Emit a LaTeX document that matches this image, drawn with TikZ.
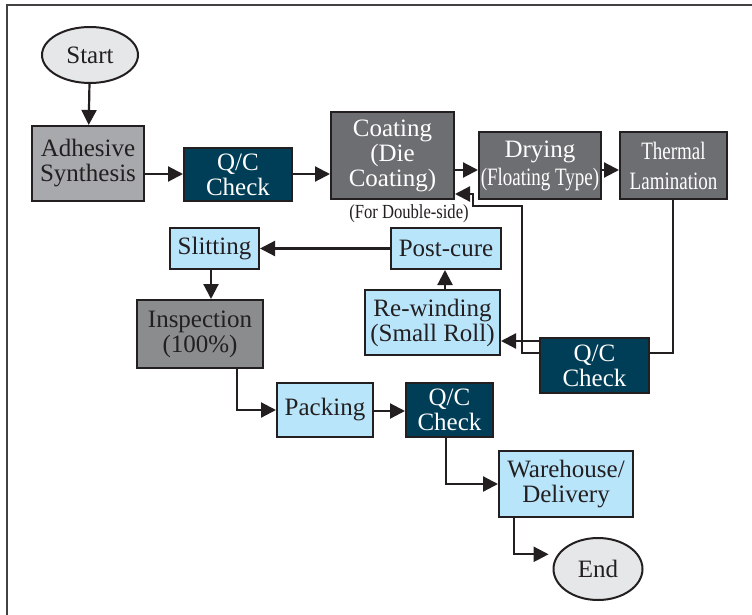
\documentclass[tikz,border=0pt]{standalone}
\usepackage{fontspec}
\setmainfont{Liberation Serif}
\newfontfamily\condf[FakeStretch=0.76]{Liberation Serif}
\newfontfamily\condg[FakeStretch=0.83]{Liberation Serif}
\usetikzlibrary{shapes.geometric,arrows.meta}
\definecolor{ink}{HTML}{231F20}
\definecolor{ovalfill}{HTML}{E6E7E8}
\definecolor{lightgray}{HTML}{A7A9AC}
\definecolor{midgray}{HTML}{8A8C8E}
\definecolor{darkgray}{HTML}{6D6E71}
\definecolor{qcblue}{HTML}{003E57}
\definecolor{skyblue}{HTML}{B9E5FB}
\tikzset{
  base/.style={draw=ink, line width=2pt, inner sep=0pt, align=center,
    font=\fontsize{25}{25}\selectfont},
  oval/.style={base, ellipse, fill=ovalfill, text=ink},
  graybox/.style={base, rectangle, fill=lightgray, text=ink},
  midbox/.style={base, rectangle, fill=midgray, text=ink},
  darkbox/.style={base, rectangle, fill=darkgray, text=white},
  qcbox/.style={base, rectangle, fill=qcblue, text=white},
  bluebox/.style={base, rectangle, fill=skyblue, text=ink},
  conn/.style={draw=ink, line width=2.2pt},
  arr/.style={conn, -{Triangle[length=15pt,width=15pt]}},
}
\begin{document}
\begin{tikzpicture}[x=1pt,y=-1pt]
\useasboundingbox (0,0) rectangle (752,615);
\fill[white] (0,0) rectangle (752,615);
\draw[ink!85, line width=2pt] (752,5) -- (7,5) -- (7,615);

\node[oval, minimum width=96pt, minimum height=56pt] (start) at (90,55) {Start};
\node[graybox, minimum width=112pt, minimum height=75pt] (adh) at (88,163.5) {Adhesive\\Synthesis};
\node[qcbox, minimum width=108pt, minimum height=53pt] (qc1) at (238,174.5) {Q/C\\Check};
\node[darkbox, minimum width=123pt, minimum height=87pt] (coat) at (392.5,155.5) {Coating\\(Die\\Coating)};
\node[darkbox, minimum width=122pt, minimum height=67pt, font=\fontsize{25}{28}\selectfont] (dry) at (540,165.5) {Drying\\{\condf (Floating Type)}};
\node[darkbox, minimum width=107pt, minimum height=67pt, font=\condf\fontsize{25}{30}\selectfont] (therm) at (673.5,165.5) {Thermal\\Lamination};
\node[inner sep=0pt, text=ink, font=\condg\fontsize{20}{20}\selectfont] (fords) at (409,214) {(For Double-side)};

\node[bluebox, minimum width=89pt, minimum height=41pt] (slit) at (214.5,248.5) {Slitting};
\node[bluebox, minimum width=110pt, minimum height=41pt] (post) at (446,248.5) {Post-cure};
\node[bluebox, minimum width=135pt, minimum height=65pt] (rew) at (432.5,322.5) {Re-winding\\(Small Roll)};
\node[midbox, minimum width=126pt, minimum height=68pt] (insp) at (200,334) {Inspection\\(100\%)};
\node[qcbox, minimum width=109pt, minimum height=55pt] (qc2) at (594.5,365.5) {Q/C\\Check};
\node[bluebox, minimum width=96pt, minimum height=54pt] (pack) at (325,410) {Packing};
\node[qcbox, minimum width=87pt, minimum height=54pt] (qc3) at (449.5,410) {Q/C\\Check};
\node[bluebox, minimum width=134pt, minimum height=66pt] (ware) at (566,484) {Warehouse/\\Delivery};
\node[oval, minimum width=89pt, minimum height=62pt] (end) at (598,569) {End};

\coordinate (yA) at (0,174);
\coordinate (yB) at (0,170);
\coordinate (yC) at (0,341);
\coordinate (yD) at (0,353);
\coordinate (yE) at (0,194);
\coordinate (yF) at (0,206);
\coordinate (xG) at (522,0);
\coordinate (xH) at (473,0);
\coordinate (xI) at (673,0);
\coordinate (xJ) at (445,0);
\coordinate (xK) at (211,0);
\coordinate (xL) at (237,0);
\coordinate (xM) at (446,0);
\coordinate (xN) at (514,0);
\coordinate (yP) at (0,411);

\draw[arr] (start) -- (adh);
\draw[arr] (adh.east |- yA) -- (qc1.west |- yA);
\draw[arr] (qc1.east |- yA) -- (coat.west |- yA);
\draw[arr] (coat.east |- yB) -- (dry.west |- yB);
\draw[arr] (dry.east |- yB) -- (therm.west |- yB);
\draw[conn] (therm.south -| xI) -- (xI |- yD) -- (qc2.east |- yD);
\draw[arr] (qc2.west |- yC) -- (rew.east |- yC);
\draw[arr] (qc2.west |- yD) -- (xG |- yD) -- (xG |- yF) -- (xH |- yF) -- (xH |- yE) -- (coat.east |- yE);
\draw[arr] (rew.north -| xJ) -- (post.south -| xJ);
\draw[arr] (post.west) -- (slit.east);
\draw[arr] (slit.south -| xK) -- (insp.north -| xK);
\draw[arr] (insp.south -| xL) |- (pack.west);
\draw[arr] (pack.east |- yP) -- (qc3.west |- yP);
\draw[arr] (qc3.south -| xM) |- (ware.west);
\draw[arr, shorten >=9pt] (ware.south -| xN) |- (end.160);
\end{tikzpicture}
\end{document}
